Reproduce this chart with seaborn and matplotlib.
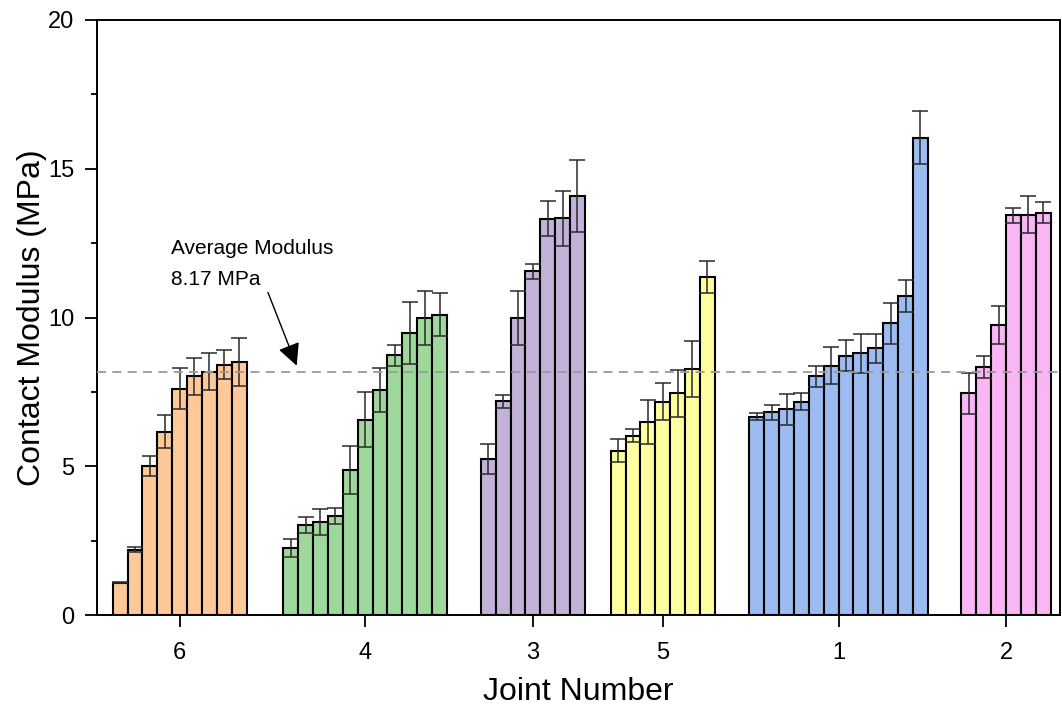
import numpy as np
import pandas as pd
import matplotlib
matplotlib.use("Agg")
import matplotlib.pyplot as plt
import seaborn as sns
from matplotlib.ticker import MultipleLocator

# ---------------- data ----------------
joints = ["6", "4", "3", "5", "1", "2"]
vals_6 = [1.09, 2.20, 5.01, 6.16, 7.61, 8.02, 8.18, 8.42, 8.51]
err_6 = [0.03, 0.07, 0.34, 0.56, 0.70, 0.61, 0.63, 0.50, 0.81]
vals_4 = [2.25, 3.03, 3.12, 3.33, 4.88, 6.57, 7.57, 8.73, 9.48, 9.98, 10.10]
err_4 = [0.29, 0.28, 0.43, 0.26, 0.80, 0.92, 0.74, 0.35, 1.04, 0.92, 0.73]
vals_3 = [5.24, 7.18, 9.98, 11.55, 13.32, 13.34, 14.10]
err_3 = [0.51, 0.21, 0.90, 0.24, 0.58, 0.92, 1.21]
vals_5 = [5.52, 6.02, 6.49, 7.17, 7.45, 8.27, 11.36]
err_5 = [0.38, 0.22, 0.73, 0.62, 0.79, 0.95, 0.54]
vals_1 = [6.67, 6.81, 6.91, 7.17, 8.02, 8.38, 8.72, 8.80, 8.96, 9.80, 10.73, 16.05]
err_1 = [0.12, 0.24, 0.52, 0.29, 0.35, 0.62, 0.51, 0.65, 0.49, 0.68, 0.53, 0.89]
vals_2 = [7.45, 8.34, 9.75, 13.43, 13.46, 13.52]
err_2 = [0.70, 0.38, 0.63, 0.25, 0.63, 0.36]
average_modulus = 8.17

# ---------------- layout (in bar-width units) ----------------
first_offset = 1.05
group_gaps = [2.47, 2.27, 1.73, 2.32, 2.25]
x_max = 64.72
colors = {"6": "#FDC998", "4": "#9FD89B", "3": "#C2B2D8",
          "5": "#FFFFA0", "1": "#9BBBF1", "2": "#FAB5F5"}

all_vals = [vals_6, vals_4, vals_3, vals_5, vals_1, vals_2]
all_errs = [err_6, err_4, err_3, err_5, err_1, err_2]

rows = []
centers = []
start = first_offset
for gi, (j, v, e) in enumerate(zip(joints, all_vals, all_errs)):
    n = len(v)
    for i in range(n):
        rows.append({"x": start + i + 0.5, "value": v[i], "err": e[i], "joint": j})
    centers.append(start + n / 2)
    start += n
    if gi < len(group_gaps):
        start += group_gaps[gi]
df = pd.DataFrame(rows)

# ---------------- style ----------------
sns.set_style("ticks")
plt.rcParams["font.family"] = ["Liberation Sans", "DejaVu Sans"]
plt.rcParams["text.color"] = "black"
plt.rcParams["axes.labelcolor"] = "black"
plt.rcParams["xtick.color"] = "black"
plt.rcParams["ytick.color"] = "black"

fig = plt.figure(figsize=(10.62, 7.15), dpi=100)
ax = fig.add_axes([97 / 1062, 1 - 615 / 715, 963 / 1062, 595 / 715])

sns.barplot(data=df, x="x", y="value", hue="joint", palette=colors,
            native_scale=True, width=1.0, dodge=False, errorbar=None,
            saturation=1, edgecolor="black", linewidth=1.5, legend=False,
            ax=ax, zorder=2)

ax.errorbar(df["x"], df["value"], yerr=df["err"], fmt="none",
            ecolor="#2a2a2a", elinewidth=1.1, capsize=5.5, capthick=1.1,
            zorder=3)

ax.axhline(average_modulus, color="#9a9a9a", lw=1.3, ls=(0, (5, 3.5)), zorder=4)

ax.set_xlim(0, x_max)
ax.set_ylim(0, 20)
ax.set_xticks(centers)
ax.set_xticklabels(joints)
ax.yaxis.set_major_locator(MultipleLocator(5))
ax.yaxis.set_minor_locator(MultipleLocator(2.5))

ax.tick_params(axis="both", which="major", direction="out", length=8.5,
               width=1.3, labelsize=17, color="black", labelcolor="black")
ax.tick_params(axis="y", which="minor", direction="out", length=4.5, width=1.3,
               color="black")
ax.tick_params(axis="x", which="major", pad=11)
ax.tick_params(axis="y", which="major", pad=8)

for s in ax.spines.values():
    s.set_visible(True)
    s.set_linewidth(1.4)
    s.set_color("black")

ax.set_xlabel("Joint Number", fontsize=23, color="black")
ax.set_ylabel("Contact Modulus (MPa)", fontsize=23, color="black")
ax.yaxis.set_label_coords(-0.052, 0.5)
ax.xaxis.set_label_coords(0.5, -0.105)

ax.text(4.95, 12.14, "Average Modulus", fontsize=15, ha="left", va="baseline",
        color="black")
ax.text(4.95, 11.08, "8.17 MPa", fontsize=15, ha="left", va="baseline",
        color="black")
ax.annotate("", xy=(13.42, 8.38), xytext=(11.49, 10.84),
            arrowprops=dict(arrowstyle="-|>", color="black", lw=1.0,
                            mutation_scale=34, shrinkA=0, shrinkB=0))

fig.savefig("out.png", dpi=100)
